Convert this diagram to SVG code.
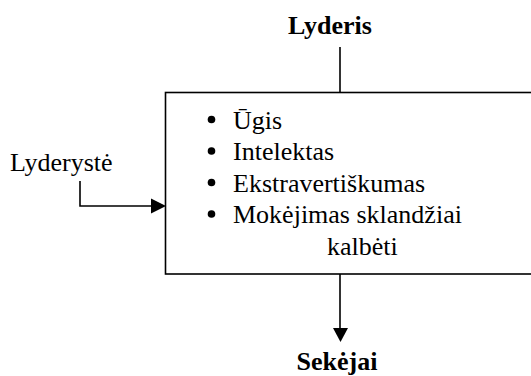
<svg xmlns="http://www.w3.org/2000/svg" width="531" height="376" viewBox="0 0 531 376">
<style>
text{font-family:"Liberation Serif","Times New Roman",Times,serif;font-size:26px;fill:#000}
.b{font-weight:bold}
.ln{stroke:#000;stroke-width:1.6;fill:none}
</style>
<rect width="531" height="376" fill="#fff"/>
<g id="box">
<rect class="ln" x="165.5" y="92.5" width="380" height="181.5"/>
<g>
<circle cx="211.5" cy="119.5" r="3.8"/>
<circle cx="211.5" cy="151" r="3.8"/>
<circle cx="211.5" cy="182.5" r="3.8"/>
<circle cx="211.5" cy="214" r="3.8"/>
</g>
<text x="233" y="128.5">Ūgis</text>
<text x="233" y="160">Intelektas</text>
<text x="233" y="191.5">Ekstravertiškumas</text>
<text x="233" y="223">Mokėjimas sklandžiai</text>
<text x="327" y="254.5">kalbėti</text>
</g>
<g id="lyderis"><text class="b" x="330" y="34" text-anchor="middle">Lyderis</text></g>
<g id="lyderyste"><text x="10" y="170.5">Lyderystė</text></g>
<g id="sekejai"><text class="b" x="337" y="370" text-anchor="middle">Sekėjai</text></g>
<g id="connectors">
<line class="ln" x1="340" y1="47" x2="340" y2="92.5"/>
<polyline class="ln" points="80,181 80,206 152,206"/>
<polygon points="151,198.5 151,213.5 166,206"/>
<line class="ln" x1="340" y1="274" x2="340" y2="330"/>
<polygon points="333,328 348,328 340.5,342"/>
</g>
</svg>
